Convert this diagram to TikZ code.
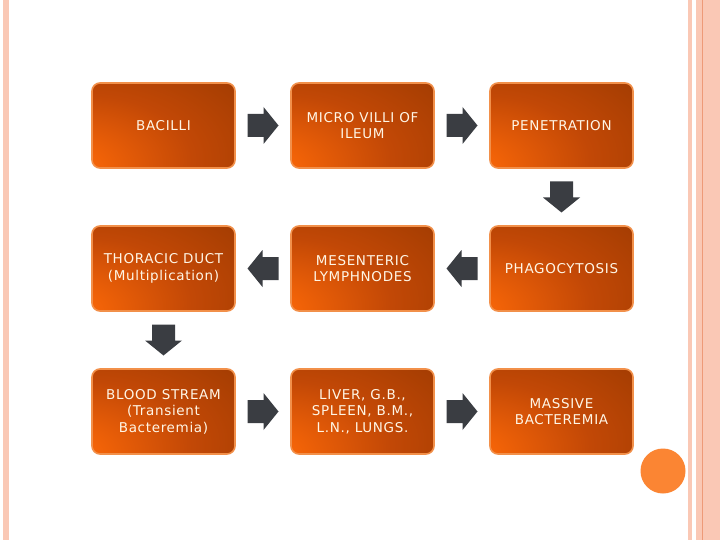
\documentclass[tikz,border=0pt]{standalone}
\usepackage{fontspec}
\setmainfont{DejaVu Sans}[LetterSpace=5]
\usetikzlibrary{calc}
\definecolor{stripe}{HTML}{FAC8B5}
\definecolor{stripeline}{HTML}{EE9A78}
\definecolor{gbright}{HTML}{FF6A08}
\definecolor{gmid}{HTML}{C24806}
\definecolor{gdark}{HTML}{943700}
\definecolor{gdarker}{HTML}{863000}
\definecolor{boxborder}{HTML}{F2904A}
\definecolor{arrowgray}{HTML}{3A3D42}
\definecolor{dotorange}{HTML}{FB8533}
\definecolor{txt}{HTML}{FFF6E6}
\pgfdeclareradialshading{boxglow}{\pgfpoint{-42bp}{-30bp}}{%
  color(0bp)=(gbright); color(8bp)=(gbright); color(38bp)=(gmid); color(72bp)=(gdark); color(115bp)=(gdarker)}
\tikzset{
  box/.style={draw=boxborder, line width=1.6pt, rounded corners=8pt,
    shading=boxglow, minimum width=143pt, minimum height=85pt,
    text=txt, align=center, inner sep=2pt,
    font=\fontsize{13.5}{16.5}\selectfont},
  barrow/.pic={\fill[arrowgray] (-15.5,-11.5) -- (0.5,-11.5) -- (0.5,-18.5) -- (15.5,0)
      -- (0.5,18.5) -- (0.5,11.5) -- (-15.5,11.5) -- cycle;}
}
\begin{document}
\begin{tikzpicture}[x=1pt,y=-1pt]
\useasboundingbox (0,0) rectangle (720,540);
\fill[white] (0,0) rectangle (720,540);
% decorative stripes
\fill[stripe] (3,0) rectangle (9,540);
\fill[stripe] (688,0) rectangle (692,540);
\fill[stripe] (696,0) rectangle (720,540);
\draw[stripeline, line width=0.7pt] (702,0) -- (702,540);
\fill[dotorange] (663,471) circle (22.5);
% boxes
\node[box] (b1) at (163.5,125.5) {BACILLI};
\node[box] (b2) at (362.5,125.5) {MICRO VILLI OF\\ILEUM};
\node[box] (b3) at (561.5,125.5) {PENETRATION};
\node[box] (b4) at (163.5,268.5) {THORACIC DUCT\\(Multiplication)};
\node[box] (b5) at (362.5,268.5) {MESENTERIC\\LYMPHNODES};
\node[box] (b6) at (561.5,268.5) {PHAGOCYTOSIS};
\node[box] (b7) at (163.5,411.5) {BLOOD STREAM\\(Transient\\Bacteremia)};
\node[box] (b8) at (362.5,411.5) {LIVER, G.B.,\\SPLEEN, B.M.,\\L.N., LUNGS.};
\node[box] (b9) at (561.5,411.5) {MASSIVE\\BACTEREMIA};
% arrows
\pic at ($(b1.east)!0.5!(b2.west)$) {barrow};
\pic at ($(b2.east)!0.5!(b3.west)$) {barrow};
\pic[rotate=-90] at ($(b3.south)!0.5!(b6.north)$) {barrow};
\pic[rotate=180] at ($(b6.west)!0.5!(b5.east)$) {barrow};
\pic[rotate=180] at ($(b5.west)!0.5!(b4.east)$) {barrow};
\pic[rotate=-90] at ($(b4.south)!0.5!(b7.north)$) {barrow};
\pic at ($(b7.east)!0.5!(b8.west)$) {barrow};
\pic at ($(b8.east)!0.5!(b9.west)$) {barrow};
\end{tikzpicture}
\end{document}
